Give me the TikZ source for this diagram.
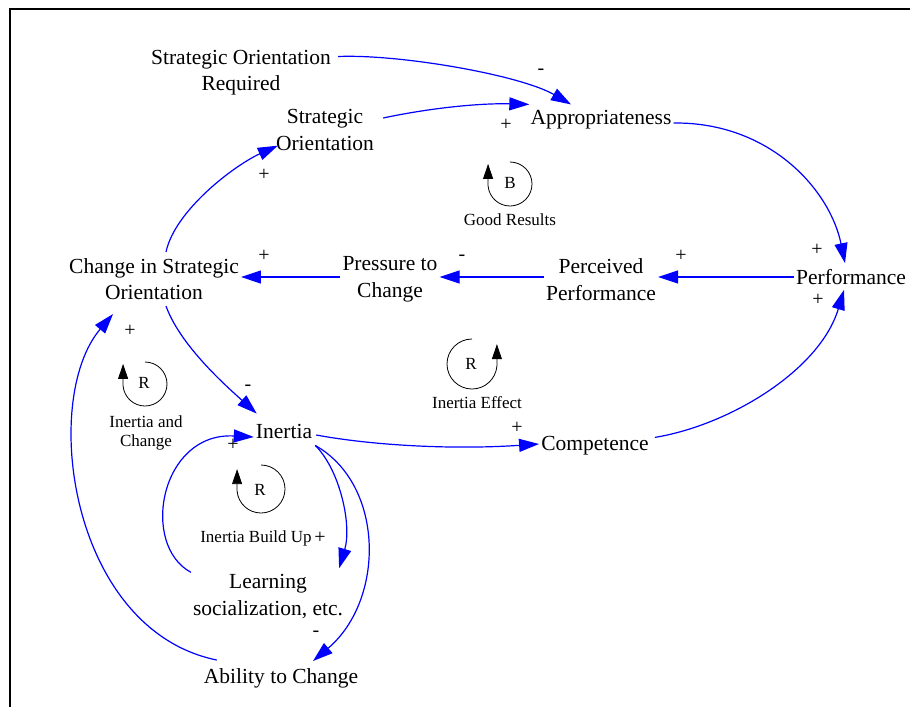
\documentclass[tikz,border=0pt]{standalone}
\usepackage{fontspec}
\setmainfont{Liberation Serif}
\usetikzlibrary{arrows.meta}
\definecolor{linkblue}{RGB}{0,0,255}

\begin{document}
\begin{tikzpicture}[x=1pt,y=-1pt,
  var/.style={inner sep=2pt, align=center, font=\fontsize{21.5}{26.5}\selectfont},
  link/.style={draw=linkblue, line width=1.2pt, -{Triangle[length=20pt,width=13pt]}},
  sign/.style={inner sep=0pt, font=\fontsize{20}{22}\selectfont},
  looplbl/.style={inner sep=0pt, align=center, font=\fontsize{17}{18.5}\selectfont},
  loopmark/.style={draw=black, line width=0.8pt, -{Triangle[length=15pt,width=10pt]}},
]
\useasboundingbox (0,0) rectangle (910,707);

% frame
\draw[line width=2.5pt] (910,9) -- (10,9) -- (10,707);

% variables
\node[var] (sor)   at (241,72.5) {Strategic Orientation\\Required};
\node[var] (so)    at (325,130)  {Strategic\\Orientation};
\node[var] (app)   at (601,120)  {Appropriateness};
\node[var] (perf)  at (851,277)  {Performance};
\node[var] (pp)    at (601,279.5) {Perceived\\Performance};
\node[var] (ptc)   at (390,279.5) {Pressure to\\Change};
\node[var] (csi)   at (154,279)  {Change in Strategic\\Orientation};
\node[var] (inr)   at (284,431)  {Inertia};
\node[var] (comp)  at (595,446)  {Competence};
\node[var] (learn) at (268,596.5) {Learning\\socialization, etc.};
\node[var] (abil)  at (281,678)  {Ability to Change};

% causal links
\draw[link] ([shift={(5,-16)}]sor.east) .. controls (400,54) and (520,75) .. ([shift={(-30,-4)}]app.north);
\draw[link] ([shift={(7,-12)}]so.east) .. controls (430,108) and (480,103) .. ([shift={(1,-4)}]app.north west);
\draw[link] ([yshift=-3]app.east) .. controls (770,122) and (830,190) .. ([shift={(-6,-4)}]perf.north);
\draw[link] (perf.west) -- (perf.west -| pp.east);
\draw[link] (perf.west -| pp.west) -- (perf.west -| ptc.east);
\draw[link] (perf.west -| ptc.west) -- (perf.west -| csi.east);
\draw[link] ([shift={(12,-4)}]csi.north) .. controls (175,210) and (235,165) .. ([shift={(4,-7)}]so.south west);
\draw[link] ([shift={(12,4)}]csi.south) .. controls (180,345) and (225,385) .. ([shift={(3,-8)}]inr.north west);
\draw[link] ([shift={(2,4)}]inr.east) .. controls (370,445) and (450,450) .. ([yshift=2]comp.west);
\draw[link] ([shift={(4,3)}]comp.north east) .. controls (730,425) and (820,370) .. ([shift={(-7,3)}]perf.south);
\draw[link] ([shift={(1,5)}]inr.south east) .. controls (340,470) and (352,525) .. ([shift={(-6,-4)}]learn.north east);
\draw[link] ([shift={(1,5)}]inr.south east) .. controls (385,485) and (385,600) .. ([shift={(32,-5)}]abil.north);
\draw[link] (learn.north west) .. controls (140,545) and (160,432) .. ([yshift=-6]inr.west);
\draw[link] ([shift={(15,-6)}]abil.north west) .. controls (70,630) and (40,400) .. ([shift={(46,12)}]csi.south west);

% link polarities
\node[sign] (s1)  at (541,72)  {-};
\node[sign] (s2)  at (506,125) {+};
\node[sign] (s3)  at (817,250) {+};
\node[sign] (s4)  at (681,256) {+};
\node[sign] (s5)  at (462,258) {-};
\node[sign] (s6)  at (264,256) {+};
\node[sign] (s7)  at (264,175) {+};
\node[sign] (s8)  at (248,388) {-};
\node[sign] (s9)  at (517,428) {+};
\node[sign] (s10) at (818,300) {+};
\node[sign] (s11) at (320,538) {+};
\node[sign] (s12) at (316,634) {-};
\node[sign] (s13) at (233,445) {+};
\node[sign] (s14) at (130,331) {+};

% loop markers
\draw[loopmark] (510,162) arc[start angle=90, end angle=-175, radius=22pt] -- ++(0,-22);
\node[looplbl] (lb) at (510,183) {B};
\node[looplbl] (lbt) at (510,220) {Good Results};

\draw[loopmark] (472,339) arc[start angle=90, end angle=355, radius=25pt] -- ++(0,-22);
\node[looplbl] (lr1) at (471,364) {R};
\node[looplbl] (lr1t) at (477,403) {Inertia Effect};

\draw[loopmark] (145,362) arc[start angle=90, end angle=-175, radius=22pt] -- ++(0,-22);
\node[looplbl] (lr2) at (144,383) {R};
\node[looplbl] (lr2t) at (146,433) {Inertia and\\Change};

\draw[loopmark] (261,465) arc[start angle=90, end angle=-175, radius=24pt] -- ++(0,-22);
\node[looplbl] (lr3) at (260,490) {R};
\node[looplbl] (lr3t) at (256,538) {Inertia Build Up};
\end{tikzpicture}
\end{document}
